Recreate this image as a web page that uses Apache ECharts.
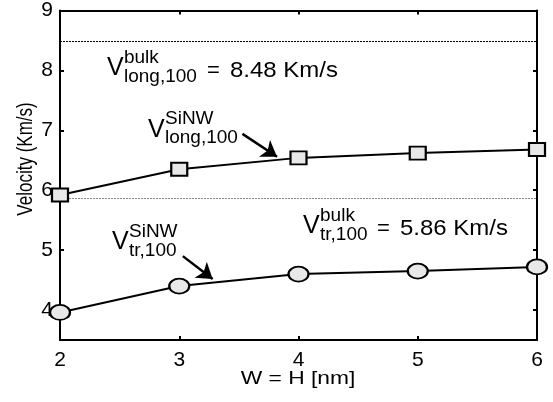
<!DOCTYPE html>
<html>
<head>
<meta charset="utf-8">
<script src="https://cdn.jsdelivr.net/npm/echarts@6/dist/echarts.min.js"></script>
<style>
  html, body { margin: 0; padding: 0; background: #fff; }
  #chart { width: 553px; height: 402px; }
</style>
</head>
<body>
<div id="chart"></div>
<script>
// data
const widths = [2, 3, 4, 5, 6];
const vLong = [5.92, 6.35, 6.54, 6.62, 6.68];
const vTr = [3.96, 4.40, 4.60, 4.65, 4.72];
const bulkLong = 8.48;
const bulkTr = 5.86;
const yTicks = [4, 5, 6, 7, 8, 9];

const FONT = 'Liberation Sans';
const ellipse = 'path://M0,10A10,10,0,1,1,20,10A10,10,0,1,1,0,10Z';

let chart = echarts.init(document.getElementById('chart'));

// arrows (data coords of tail -> head)
const arrows = [
  [[3.53, 6.94], [3.82, 6.56]],
  [[3.03, 4.90], [3.28, 4.52]]
];

const boxAxis = { color: '#000', width: 2 };
const tick = { inside: true, length: 4, lineStyle: { color: '#000', width: 2 } };

let option = {
  animation: false,
  grid: { left: 60, right: 16, top: 7, bottom: 62 },
  xAxis: [{
    type: 'value', min: 2, max: 6, interval: 1,
    axisLine: { lineStyle: boxAxis },
    axisTick: tick,
    axisLabel: { fontFamily: FONT, fontSize: 21, color: '#000', margin: 10 },
    splitLine: { show: false }
  }, {
    type: 'value', min: 2, max: 6, interval: 1, position: 'top',
    axisLine: { lineStyle: boxAxis },
    axisTick: tick,
    axisLabel: { show: false }, splitLine: { show: false }
  }],
  yAxis: [{
    type: 'value', min: 3.5, max: 9,
    axisLine: { lineStyle: boxAxis },
    axisTick: Object.assign({ customValues: yTicks }, tick),
    axisLabel: { fontFamily: FONT, fontSize: 21, color: '#000', margin: 7, customValues: yTicks },
    splitLine: { show: false }
  }, {
    type: 'value', min: 3.5, max: 9, position: 'right',
    axisLine: { lineStyle: boxAxis },
    axisTick: Object.assign({ customValues: yTicks }, tick),
    axisLabel: { show: false }, splitLine: { show: false }
  }],
  series: [{
    type: 'line',
    data: widths.map((w, i) => [w, vLong[i]]),
    symbol: 'rect', symbolSize: [16, 13],
    clip: false, z: 5,
    lineStyle: { color: '#000', width: 2 },
    itemStyle: { color: '#e8e8e8', borderColor: '#000', borderWidth: 2 },
    markLine: {
      silent: true, symbol: 'none', label: { show: false },
      lineStyle: { color: '#000', type: [2, 1], width: 1.2 },
      data: [{ yAxis: bulkLong }]
    }
  }, {
    type: 'line',
    data: widths.map((w, i) => [w, vTr[i]]),
    symbol: ellipse, symbolSize: [20, 15],
    clip: false, z: 5,
    lineStyle: { color: '#000', width: 2 },
    itemStyle: { color: '#e8e8e8', borderColor: '#000', borderWidth: 2 },
    markLine: {
      silent: true, symbol: 'none', label: { show: false },
      lineStyle: { color: '#888', type: [2, 1], width: 1.2 },
      data: [{ yAxis: bulkTr }]
    }
  }, {
    type: 'lines',
    coordinateSystem: 'cartesian2d',
    silent: true, z: 6,
    symbol: ['none', 'arrow'], symbolSize: 15,
    lineStyle: { color: '#000', width: 2.5, opacity: 1 },
    data: arrows.map(a => ({ coords: a }))
  }]
};
chart.setOption(option);

function txt(text, x, y, size, extra) {
  return Object.assign({
    type: 'text', x: x, y: y,
    style: { text: text, fontSize: size, fontFamily: FONT, fill: '#000', verticalAlign: 'bottom' }
  }, extra || {});
}

// V with stacked super/subscript; anchor = left end of V baseline, in data coords
function label(x, y, sup, sub, eqDx) {
  const p = chart.convertToPixel({ gridIndex: 0 }, [x, y]);
  // 'bottom' aligns the em box bottom, so shift by the descent to get the baseline
  const els = [
    txt('V', p[0], p[1] + 5, 25),
    txt(sup, p[0] + 17, p[1] - 13 + 4, 19),
    txt(sub, p[0] + 17, p[1] + 6 + 4, 19)
  ];
  if (eqDx) {
    els.push(txt('=', p[0] + eqDx, p[1] + 1 + 5, 22));
    els.push(txt(eqDx > 90 ? '8.48 Km/s' : '5.86 Km/s', p[0] + eqDx + 23, p[1] + 1 + 5, 22, { scaleX: 1.09 }));
  }
  return els;
}

chart.setOption({
  graphic: [].concat(
    label(2.394, 7.91, 'bulk', 'long,100', 100),
    label(2.738, 6.886, 'SiNW', 'long,100'),
    label(2.436, 5.003, 'SiNW', 'tr,100'),
    label(4.038, 5.268, 'bulk', 'tr,100', 74),
    [
      { type: 'text', x: 298, y: 379, scaleX: 1.2,
        style: { text: 'W = H [nm]', fontSize: 19, fontFamily: FONT, fill: '#000', align: 'center', verticalAlign: 'middle' } },
      { type: 'text', x: 26, y: 159, rotation: Math.PI / 2, scaleY: 1.35,
        style: { text: 'Velocity (Km/s)', fontSize: 17, fontFamily: FONT, fill: '#000', align: 'center', verticalAlign: 'middle' } }
    ]
  )
});
</script>
</body>
</html>
